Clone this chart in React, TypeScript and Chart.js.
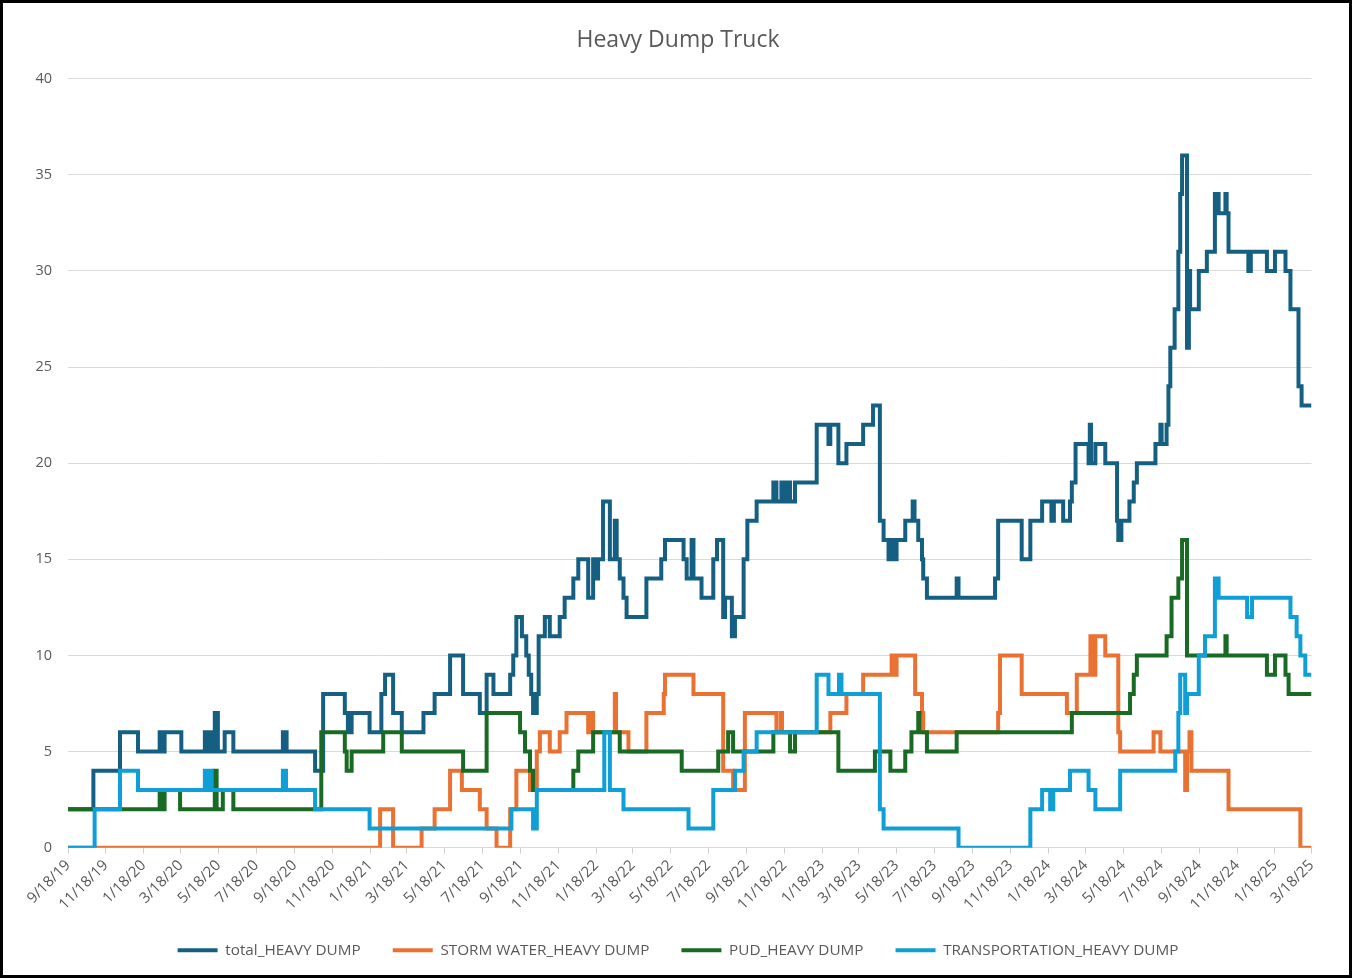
import React, { useEffect, useRef } from "react";
import { Chart, registerables } from "chart.js";

Chart.register(...registerables);

const FONT = "'Open Sans', 'Noto Sans', sans-serif";

// x-axis tick labels (every two months)
const tickLabels = [
  "9/18/19", "11/18/19", "1/18/20", "3/18/20", "5/18/20", "7/18/20", "9/18/20", "11/18/20",
  "1/18/21", "3/18/21", "5/18/21", "7/18/21", "9/18/21", "11/18/21", "1/18/22", "3/18/22",
  "5/18/22", "7/18/22", "9/18/22", "11/18/22", "1/18/23", "3/18/23", "5/18/23", "7/18/23",
  "9/18/23", "11/18/23", "1/18/24", "3/18/24", "5/18/24", "7/18/24", "9/18/24", "11/18/24",
  "1/18/25", "3/18/25",
];

const seriesNames = [
  "total_HEAVY DUMP",
  "STORM WATER_HEAVY DUMP",
  "PUD_HEAVY DUMP",
  "TRANSPORTATION_HEAVY DUMP",
];
const seriesColors = ["#156082", "#E97132", "#196B24", "#0F9ED5"];

// Step series: day offset since 9/18/19 where the count changes, and the new count
const totalDays = [
  0, 41, 84, 113, 148, 153, 156, 183, 221, 224, 229, 232, 237, 242, 253, 267, 347, 353, 399, 412,
  447, 452, 458, 487, 506, 512, 525, 539, 574, 592, 617, 638, 665, 676, 687, 714, 719, 724, 733, 740,
  744, 748, 751, 757, 760, 770, 778, 794, 802, 816, 824, 840, 848, 852, 856, 864, 875, 883, 886, 891,
  897, 902, 934, 958, 964, 994, 999, 1007, 1010, 1023, 1042, 1048, 1058, 1061, 1072, 1077, 1091, 1097, 1112, 1139,
  1144, 1152, 1158, 1160, 1166, 1174, 1209, 1228, 1231, 1244, 1257, 1284, 1300, 1311, 1317, 1325, 1330, 1333, 1338, 1352,
  1364, 1367, 1373, 1379, 1381, 1387, 1435, 1438, 1497, 1502, 1540, 1554, 1573, 1588, 1592, 1607, 1618, 1621, 1627, 1648,
  1650, 1652, 1659, 1675, 1694, 1696, 1701, 1714, 1721, 1726, 1756, 1764, 1766, 1774, 1777, 1780, 1787, 1793, 1796, 1799,
  1807, 1810, 1812, 1826, 1839, 1852, 1858, 1869, 1871, 1874, 1906, 1910, 1936, 1949, 1966, 1974, 1987, 1992,
];
const totalValues = [
  2, 4, 6, 5, 6, 5, 6, 5, 6, 5, 6, 5, 7, 5, 6, 5, 6, 5, 4, 8,
  7, 6, 7, 6, 8, 9, 7, 6, 7, 8, 10, 8, 7, 9, 8, 9, 10, 12, 11, 10,
  9, 8, 7, 8, 11, 12, 11, 12, 13, 14, 15, 13, 15, 14, 15, 18, 15, 17, 15, 14,
  13, 12, 14, 15, 16, 15, 14, 16, 14, 13, 15, 16, 12, 13, 11, 12, 15, 17, 18, 19,
  18, 19, 18, 19, 18, 19, 22, 21, 22, 20, 21, 22, 23, 17, 16, 15, 16, 15, 16, 17,
  18, 17, 16, 15, 14, 13, 14, 13, 14, 17, 15, 17, 18, 17, 18, 17, 18, 19, 21, 20,
  22, 20, 21, 20, 17, 16, 17, 18, 19, 20, 21, 22, 21, 22, 24, 26, 28, 31, 34, 36,
  26, 30, 28, 30, 31, 34, 33, 34, 33, 31, 30, 31, 30, 31, 30, 28, 24, 23,
];

const stormDays = [
  0, 504, 525, 571, 592, 617, 636, 665, 676, 692, 714, 724, 746, 757, 762, 778, 794, 805, 840, 845,
  848, 883, 885, 905, 934, 962, 964, 1010, 1058, 1074, 1093, 1144, 1151, 1153, 1231, 1257, 1284, 1330, 1333, 1338,
  1368, 1379, 1381, 1502, 1505, 1540, 1613, 1629, 1651, 1653, 1659, 1675, 1696, 1699, 1753, 1764, 1804, 1807, 1811, 1814,
  1874, 1990,
];
const stormValues = [
  0, 2, 0, 1, 2, 4, 3, 2, 1, 0, 2, 4, 3, 5, 6, 5, 6, 7, 6, 7,
  6, 8, 6, 5, 7, 8, 9, 8, 4, 3, 7, 6, 7, 6, 7, 8, 9, 10, 9, 10,
  8, 7, 6, 7, 10, 8, 7, 9, 11, 9, 11, 10, 6, 5, 6, 5, 3, 5, 6, 4,
  2, 0,
];

const pudDays = [
  0, 148, 152, 156, 181, 237, 240, 250, 267, 409, 447, 450, 458, 509, 539, 638, 676, 730, 738, 746,
  751, 816, 824, 848, 891, 991, 1050, 1066, 1074, 1139, 1166, 1174, 1244, 1303, 1328, 1352, 1362, 1373, 1375, 1387,
  1435, 1621, 1715, 1721, 1726, 1774, 1782, 1793, 1799, 1807, 1869, 1871, 1936, 1949, 1966, 1971,
];
const pudValues = [
  2, 3, 2, 3, 2, 4, 2, 3, 2, 6, 5, 4, 5, 6, 5, 4, 7, 6, 5, 4,
  3, 4, 5, 6, 5, 4, 5, 6, 5, 6, 5, 6, 4, 5, 4, 5, 6, 7, 6, 5,
  6, 7, 8, 9, 10, 11, 13, 14, 16, 10, 11, 10, 9, 10, 9, 8,
];

const transportDays = [
  0, 43, 84, 113, 221, 224, 229, 232, 347, 352, 399, 487, 716, 751, 757, 866, 875, 897, 1002, 1042,
  1077, 1091, 1112, 1209, 1228, 1245, 1249, 1311, 1317, 1438, 1554, 1573, 1586, 1591, 1618, 1648, 1659, 1699, 1788, 1793,
  1796, 1804, 1807, 1826, 1836, 1852, 1858, 1904, 1912, 1974, 1984, 1990, 1998,
];
const transportValues = [
  0, 2, 4, 3, 4, 3, 4, 3, 4, 3, 2, 1, 2, 1, 3, 6, 3, 2, 1, 3,
  4, 5, 6, 9, 8, 9, 8, 2, 1, 0, 2, 3, 2, 3, 4, 3, 2, 4, 5, 7,
  9, 7, 8, 10, 11, 14, 13, 12, 13, 12, 11, 10, 9,
];

const START = Date.UTC(2019, 8, 18);
const tickDays = tickLabels.map((s) => {
  const [m, d, y] = s.split("/").map(Number);
  return Math.round((Date.UTC(2000 + y, m - 1, d) - START) / 86400000);
});
const END_DAY = tickDays[tickDays.length - 1];
const labelByDay: Record<number, string> = {};
tickDays.forEach((d, i) => (labelByDay[d] = tickLabels[i]));

function toPoints(days: number[], values: number[]) {
  const pts = days.map((d, i) => ({ x: d, y: values[i] }));
  pts.push({ x: END_DAY, y: values[values.length - 1] });
  return pts;
}

const seriesData = [
  toPoints(totalDays, totalValues),
  toPoints(stormDays, stormValues),
  toPoints(pudDays, pudValues),
  toPoints(transportDays, transportValues),
];

export default function App() {
  const ref = useRef<HTMLCanvasElement | null>(null);

  useEffect(() => {
    if (!ref.current) return;
    Chart.defaults.font.family = FONT;
    const chart = new Chart(ref.current, {
      type: "line",
      data: {
        datasets: seriesNames.map((name, i) => ({
          label: name,
          data: seriesData[i],
          borderColor: seriesColors[i],
          backgroundColor: seriesColors[i],
          borderWidth: 4,
          pointRadius: 0,
          pointHoverRadius: 0,
          stepped: true,
          fill: false,
          order: seriesNames.length - i,
        })),
      },
      options: {
        responsive: false,
        animation: false,
        devicePixelRatio: 1,
        layout: { padding: { left: 8, right: 4, top: 20, bottom: 10 } },
        plugins: {
          title: {
            display: true,
            text: "Heavy Dump Truck",
            color: "#595959",
            font: { size: 23, weight: "normal", family: FONT },
            padding: { top: 7, bottom: 24 },
          },
          legend: {
            position: "bottom",
            labels: {
              boxWidth: 40,
              boxHeight: 4,
              padding: 32,
              color: "#595959",
              font: { size: 15.3, family: FONT },
              sort: (a: any, b: any) => a.datasetIndex - b.datasetIndex,
              generateLabels: (c: any) =>
                Chart.defaults.plugins.legend.labels.generateLabels(c).map((it: any) => ({
                  ...it,
                  fillStyle: seriesColors[it.datasetIndex],
                  strokeStyle: seriesColors[it.datasetIndex],
                  lineWidth: 0,
                })),
            },
          },
          tooltip: { enabled: false },
        },
        scales: {
          x: {
            type: "linear",
            min: 0,
            max: END_DAY,
            afterBuildTicks: (axis: any) => {
              axis.ticks = tickDays.map((v) => ({ value: v }));
            },
            afterFit: (axis: any) => {
              axis.paddingLeft = 0;
              axis.paddingRight = 40.5;
              axis.height = 63;
            },
            ticks: {
              autoSkip: false,
              maxRotation: 45,
              minRotation: 45,
              padding: 4,
              color: "#595959",
              font: { size: 15, lineHeight: 1, family: FONT },
              callback: (v: any) => labelByDay[v as number] ?? "",
            },
            grid: { drawOnChartArea: false, drawTicks: true, tickLength: 6, color: "#D0D0D0" },
            border: { display: true, color: "#D9D9D9" },
          },
          y: {
            min: 0,
            max: 40,
            afterFit: (axis: any) => {
              axis.width = 60;
            },
            ticks: {
              stepSize: 5,
              padding: 16,
              color: "#595959",
              font: { size: 14.5, family: FONT },
            },
            grid: { color: "#D9D9D9", drawTicks: false },
            border: { display: false },
          },
        },
      } as any,
    });
    return () => chart.destroy();
  }, []);

  return (
    <div style={{ position: "fixed", left: 0, top: 0, width: 1352, height: 978, background: "#fff" }}>
      <canvas
        ref={ref}
        width={1352}
        height={978}
        style={{ position: "absolute", left: 0, top: 0, width: 1352, height: 978 }}
      />
      <div
        style={{
          position: "absolute",
          left: 0,
          top: 0,
          width: 1352,
          height: 978,
          boxSizing: "border-box",
          border: "3px solid #000",
          pointerEvents: "none",
        }}
      />
    </div>
  );
}
